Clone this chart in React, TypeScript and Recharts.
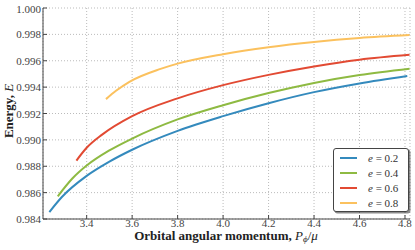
import {
  CartesianGrid,
  Line,
  LineChart,
  XAxis,
  YAxis,
} from "recharts";

// P_phi/mu values and energies
const pE02 = [3.236, 3.291, 3.4, 3.5, 3.6, 3.8, 4.0, 4.2, 4.4, 4.6, 4.81];
const eE02 = [0.98453, 0.98567, 0.98727, 0.98835, 0.98925, 0.99068, 0.9918, 0.99278, 0.99362, 0.99428, 0.99484];

const pE04 = [3.273, 3.336, 3.4, 3.5, 3.6, 3.8, 4.0, 4.2, 4.4, 4.6, 4.82];
const eE04 = [0.98572, 0.98705, 0.98805, 0.9892, 0.9901, 0.99155, 0.99263, 0.99355, 0.99432, 0.99492, 0.9954];

const pE06 = [3.355, 3.4, 3.468, 3.6, 3.8, 4.0, 4.2, 4.4, 4.6, 4.82];
const eE06 = [0.98843, 0.9894, 0.9904, 0.9918, 0.99315, 0.99415, 0.99493, 0.99557, 0.99608, 0.99645];

const pE08 = [3.485, 3.529, 3.588, 3.725, 3.8, 4.0, 4.2, 4.4, 4.6, 4.82];
const eE08 = [0.99309, 0.99372, 0.9944, 0.99538, 0.99578, 0.9965, 0.99703, 0.99743, 0.99773, 0.99795];

const xTicks = [3.4, 3.6, 3.8, 4.0, 4.2, 4.4, 4.6, 4.8];
const yTicks = [0.984, 0.986, 0.988, 0.99, 0.992, 0.994, 0.996, 0.998, 1.0];

const series = [
  { name: "0.2", color: "#348ABD", data: pE02.map((P, i) => ({ P, E: eE02[i] })) },
  { name: "0.4", color: "#8EBA42", data: pE04.map((P, i) => ({ P, E: eE04[i] })) },
  { name: "0.6", color: "#E24A33", data: pE06.map((P, i) => ({ P, E: eE06[i] })) },
  { name: "0.8", color: "#FBC15E", data: pE08.map((P, i) => ({ P, E: eE08[i] })) },
];

const FONT = "'Liberation Serif', 'DejaVu Serif', serif";
const AXIS = "#444";

function XTick(props: any) {
  const { x, y, payload } = props;
  return (
    <text x={x} y={y + 8} textAnchor="middle" fontFamily={FONT} fontSize={11} fill="#444">
      {Number(payload.value).toFixed(1)}
    </text>
  );
}

function YTick(props: any) {
  const { x, y, payload } = props;
  return (
    <text x={x} y={y + 4} textAnchor="end" fontFamily={FONT} fontSize={11} fill="#444">
      {Number(payload.value).toFixed(3)}
    </text>
  );
}

function LegendBox() {
  return (
    <div
      style={{
        position: "absolute",
        left: 333,
        top: 148,
        width: 76,
        height: 64,
        border: `1px solid ${AXIS}`,
        borderRadius: 3,
        background: "#fff",
        boxShadow: "1.5px 1.5px 0 rgba(0,0,0,0.45)",
        fontFamily: FONT,
        fontSize: 11,
        color: "#333",
        boxSizing: "border-box",
        paddingTop: 1,
      }}
    >
      {series.map((s) => (
        <div key={s.name} style={{ display: "flex", alignItems: "center", height: 15 }}>
          <span style={{ display: "inline-block", width: 17, height: 2, background: s.color, marginLeft: 6, marginRight: 11 }} />
          <span>
            <i>e</i> = {s.name}
          </span>
        </div>
      ))}
    </div>
  );
}

export default function App() {
  return (
    <div style={{ position: "absolute", left: 0, top: 0, width: 415, height: 250, background: "#fff", fontFamily: FONT }}>
      <LineChart width={415} height={250} margin={{ top: 8, right: 5, bottom: 0, left: 0 }}>
        <CartesianGrid stroke="#bbb" strokeDasharray="1 2" />
        <XAxis
          dataKey="P"
          type="number"
          domain={[3.208, 4.822]}
          allowDataOverflow
          ticks={xTicks}
          height={31}
          tickSize={-4}
          tickMargin={4}
          stroke={AXIS}
          tick={<XTick />}
          label={{
            content: () => (
              <text x={226} y={240} textAnchor="middle" fontFamily={FONT} fontSize={13} fontWeight="bold" fill="#222">
                Orbital angular momentum,{" "}
                <tspan fontStyle="italic" fontWeight="normal">P</tspan>
                <tspan fontStyle="italic" fontWeight="normal" fontSize={9} dy={2}>ϕ</tspan>
                <tspan fontWeight="normal" dy={-2}>/</tspan>
                <tspan fontStyle="italic" fontWeight="normal">μ</tspan>
              </text>
            ),
          }}
        />
        <XAxis
          xAxisId="top"
          orientation="top"
          type="number"
          domain={[3.208, 4.822]}
          allowDataOverflow
          ticks={xTicks}
          tickFormatter={() => ""}
          height={0}
          tickSize={-4}
          stroke={AXIS}
        />
        <YAxis
          type="number"
          domain={[0.984, 1.0]}
          allowDataOverflow
          ticks={yTicks}
          width={43}
          tickSize={-4}
          tickMargin={6}
          stroke={AXIS}
          tick={<YTick />}
          label={{
            content: () => (
              <text x={13} y={111} transform="rotate(-90 13 111)" textAnchor="middle" fontFamily={FONT} fontSize={13} fontWeight="bold" fill="#222">
                Energy, <tspan fontStyle="italic" fontWeight="normal">E</tspan>
              </text>
            ),
          }}
        />
        <YAxis
          yAxisId="right"
          orientation="right"
          type="number"
          domain={[0.984, 1.0]}
          allowDataOverflow
          ticks={yTicks}
          tickFormatter={() => ""}
          width={0}
          tickSize={-4}
          stroke={AXIS}
        />
        {series.map((s) => (
          <Line
            key={s.name}
            data={s.data}
            dataKey="E"
            name={s.name}
            type="monotone"
            stroke={s.color}
            strokeWidth={2}
            dot={false}
            isAnimationActive={false}
          />
        ))}
      </LineChart>
      <LegendBox />
    </div>
  );
}
